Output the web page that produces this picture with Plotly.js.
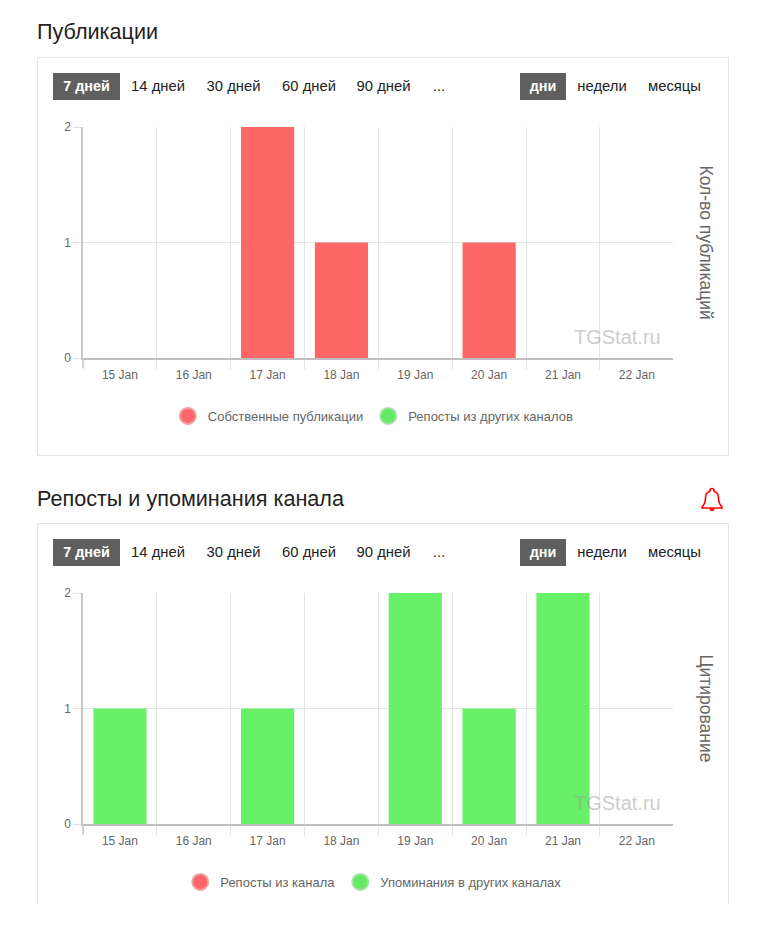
<!DOCTYPE html>
<html><head><meta charset="utf-8">
<script src="https://cdn.plot.ly/plotly-3.0.1.min.js"></script>
<style>
html,body{margin:0;padding:0;background:#fff;width:759px;height:928px;overflow:hidden;font-family:"Liberation Sans",Arial,sans-serif}
.abs{position:absolute}
.title{left:37px;font-size:21.6px;color:#222;line-height:24px;white-space:nowrap}
.panel{left:37px;width:690px;border:1px solid #e6e6e6;box-sizing:content-box;background:#fff}
.btn{font-size:14.8px;line-height:26px;height:27px;color:#222;white-space:nowrap;text-align:center}
.on{background:#5f5f5f;color:#fff;font-weight:bold;font-size:14.4px}
.chart{left:37px;width:691px}
</style></head><body>
<div id="page"></div>
<script>
const days = ['15 Jan','16 Jan','17 Jan','18 Jan','19 Jan','20 Jan','21 Jan','22 Jan'];
const ownPosts      = [0,0,2,1,0,1,0,0];
const repostsIn     = [0,0,0,0,0,0,0,0];
const repostsOut    = [0,0,0,0,0,0,0,0];
const mentions      = [1,0,1,0,2,1,2,0];
const rangeLabels = ['7 дней','14 дней','30 дней','60 дней','90 дней','...'];
const rangeLefts  = [53,120,196,271,345,426];
const rangeWidths = [67,76,75,76,77,26];
const unitLabels = ['дни','недели','месяцы'];
const unitLefts  = [520,566,637];
const unitWidths = [46,72,75];
const RED='#ff6666', GREEN='#69f069';

const page=document.getElementById('page');
function el(cls,css,html,parent){const d=document.createElement('div');d.className=cls;d.style.cssText=css;if(html)d.innerHTML=html;(parent||page).appendChild(d);return d;}

function chrome(panelTop,panelH,noBottom){
  el('abs panel',`top:${panelTop}px;height:${panelH}px;`+(noBottom?'border-bottom:none;':''));
  rangeLabels.forEach((t,i)=>el('abs btn'+(i==0?' on':''),`top:${panelTop+16}px;left:${rangeLefts[i]}px;width:${rangeWidths[i]}px`,t));
  unitLabels.forEach((t,i)=>el('abs btn'+(i==0?' on':''),`top:${panelTop+16}px;left:${unitLefts[i]}px;width:${unitWidths[i]}px`,t));
}
el('abs title','top:20px','Публикации');
el('abs title','top:487px','Репосты и упоминания канала');
chrome(57,397,false);
chrome(523,380,true);
el('abs','left:700px;top:487px;width:24px;height:26px',
 '<svg width="24" height="26" viewBox="0 0 24 26"><path d="M12 1.5c-1.2 0-2 .8-2 2v.7C6.800 5.100 5.500 7.800 5.500 11c0 4.500-1.500 7-3.500 9v1h20v-1c-2-2-3.500-4.500-3.500-9 0-3.200-1.300-5.900-4.500-6.800v-.7c0-1.200-.8-2-2-2z" fill="none" stroke="#f00" stroke-width="1.600"/><path d="M9.500 21.500a2.500 2.500 0 0 0 5 0z" fill="#f00"/></svg>');

function plot(top,seriesA,nameA,seriesB,nameB,yTitle){
  const height=399;
  const d=el('abs chart',`top:${top}px;height:${height}px`);
  const H=231;
  const bar=(y,c)=>({type:'bar',x:days,y:y,width:0.72,marker:{color:c,line:{width:0}},showlegend:false,hoverinfo:'x+y'});
  const key=(n,c,ln)=>({type:'scatter',mode:'markers',x:days,y:days.map(()=>null),name:n,
     marker:{color:c,size:16,symbol:'circle',line:{color:ln,width:2}}});
  Plotly.newPlot(d,[bar(seriesA,RED),bar(seriesB,GREEN),key(nameA,'#ff6468','#eda3a3'),key(nameB,'#62ea62','#a6e0a6')],{
    width:691,height:height,margin:{l:46,r:55,t:70,b:height-70-H,pad:0},
    paper_bgcolor:'rgba(0,0,0,0)',plot_bgcolor:'rgba(0,0,0,0)',barmode:'overlay',
    font:{family:'"Liberation Sans",Arial,sans-serif',size:12,color:'#666'},
    xaxis:{type:'category',categoryorder:'array',categoryarray:days,range:[-0.5,7.49],tickson:'boundaries',showgrid:true,gridcolor:'#e4e4e4',gridwidth:1,
      ticks:'outside',ticklen:10,tickcolor:'#e4e4e4',tickwidth:1,showline:true,linecolor:'#c0c0c0',linewidth:1.5,ticklabelstandoff:5,
      tickfont:{size:12,color:'#666'},zeroline:false,fixedrange:true},
    yaxis:{range:[0,2],tickvals:[0,1,2],ticktext:['0','1','2'],showgrid:true,gridcolor:'#e4e4e4',gridwidth:1,
      ticks:'outside',ticklen:8,tickcolor:'#e0e0e0',tickwidth:1,showline:true,linecolor:'#c8c8c8',linewidth:1.5,
      tickfont:{size:12,color:'#666'},zeroline:false,fixedrange:true},
    legend:{orientation:'h',x:0.492,xanchor:'center',y:-0.186,yanchor:'top',itemsizing:'trace',itemclick:false,itemdoubleclick:false,
      font:{size:13,color:'#666'},bgcolor:'rgba(0,0,0,0)',traceorder:'normal'},
    shapes:[{type:'line',xref:'paper',yref:'paper',x0:0,x1:0,y0:0,y1:-10/H,line:{color:'#c8c8c8',width:1.5}}],
    annotations:[
      {xref:'paper',yref:'paper',x:1.056,y:0.5,text:yTitle,textangle:90,showarrow:false,font:{size:17.5,color:'#666'},xanchor:'center',yanchor:'middle'},
      {xref:'paper',yref:'paper',x:0.983,y:0.09,text:'TGStat.ru',showarrow:false,font:{size:20,color:'rgba(153,153,153,0.5)'},xanchor:'right',yanchor:'middle'}
    ]
  },{displayModeBar:false,responsive:false});
}
plot(57,ownPosts,'Собственные публикации',repostsIn,'Репосты из других каналов','Кол-во публикаций');
plot(523,repostsOut,'Репосты из канала',mentions,'Упоминания в других каналах','Цитирование');
</script>
</body></html>
